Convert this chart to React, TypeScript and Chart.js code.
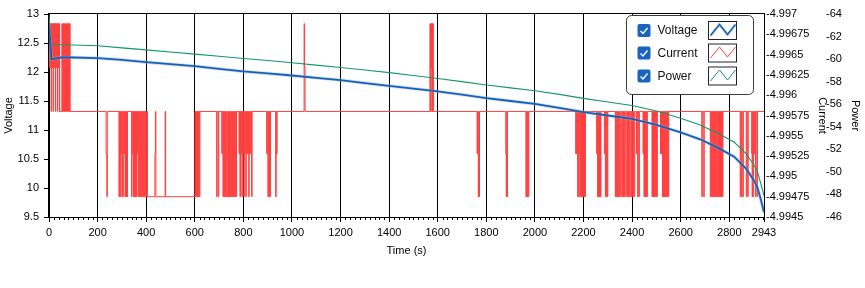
import React, { useEffect, useRef } from 'react';
import { Chart, registerables } from 'chart.js';

Chart.register(...registerables);

const FONT = '"Liberation Sans", Arial, sans-serif';

// ---- axes ----
const TIME_MAX = 2943;
const TIME_TICKS = [0, 200, 400, 600, 800, 1000, 1200, 1400, 1600, 1800, 2000, 2200, 2400, 2600, 2800, 2943];
const TIME_MINOR_STEP = 20;
const VOLTAGE_TICKS = [9.5, 10, 10.5, 11, 11.5, 12, 12.5, 13];
const CURRENT_TICKS = [-4.997, -4.99675, -4.9965, -4.99625, -4.996, -4.99575, -4.9955, -4.99525, -4.995, -4.99475, -4.9945];
const CURRENT_TICK_LABELS = ['-4.997', '-4.99675', '-4.9965', '-4.99625', '-4.996', '-4.99575', '-4.9955', '-4.99525', '-4.995', '-4.99475', '-4.9945'];
const POWER_TICKS = [-64, -62, -60, -58, -56, -54, -52, -50, -48, -46];

// ---- series ----
const SAMPLE_TIME = [0, 10, 25, 50, 100, 200, 300, 400, 500, 600, 700, 800, 900, 1000, 1100, 1200, 1300, 1400, 1500, 1600, 1700, 1800, 1900, 2000, 2100, 2200, 2300, 2400, 2500, 2600, 2680, 2750, 2820, 2870, 2900, 2915, 2930, 2943];
const VOLTAGE_VALUES = [12.82, 12.22, 12.23, 12.25, 12.25, 12.24, 12.21, 12.17, 12.135, 12.1, 12.055, 12.01, 11.975, 11.94, 11.9, 11.86, 11.81, 11.76, 11.715, 11.665, 11.61, 11.55, 11.5, 11.45, 11.38, 11.31, 11.25, 11.19, 11.09, 10.96, 10.84, 10.7, 10.54, 10.33, 10.14, 10.02, 9.8, 9.58];
const POWER_VALUES = [-63.9, -61.3, -61.3, -61.28, -61.25, -61.18, -61.0, -60.82, -60.63, -60.44, -60.25, -60.06, -59.88, -59.68, -59.47, -59.26, -59.03, -58.8, -58.55, -58.28, -58.0, -57.7, -57.45, -57.2, -56.87, -56.52, -56.2, -55.88, -55.4, -54.75, -54.15, -53.45, -52.65, -51.6, -50.65, -50.1, -48.95, -47.9];

// quantised current levels (A)
const CURRENT_LEVELS = [-4.99688, -4.99634, -4.9958, -4.99528, -4.99475];
// [time (s), level index] – value holds until the next entry
const CURRENT_STEPS: [number, number][] = [
  [0, 1], [2, 0], [4, 1], [5, 0], [7, 1], [8, 0], [9, 2], [10, 0], [12, 1], [13, 0], [15, 1], [16, 0], [17, 2], [18, 0],
  [20, 1], [21, 0], [23, 1], [24, 0], [26, 2], [27, 0], [29, 1], [30, 0], [32, 1], [33, 0], [34, 2], [35, 0], [37, 1],
  [38, 0], [40, 1], [41, 0], [42, 2], [43, 0], [44, 2], [53, 0], [55, 2], [56, 0], [58, 2], [59, 0], [61, 1], [62, 2],
  [63, 0], [65, 2], [66, 0], [68, 2], [69, 0], [71, 1], [72, 2], [73, 0], [75, 2], [76, 0], [78, 2], [79, 0], [81, 2],
  [82, 0], [84, 2], [85, 0], [87, 2],
  [235, 3], [238, 4], [240, 2],
  [288, 4], [290, 2], [292, 4], [294, 2], [296, 3], [298, 2], [300, 4], [302, 2], [304, 4], [306, 2], [309, 3], [311, 2],
  [313, 4], [315, 2], [317, 4], [319, 2], [321, 4], [323, 2],
  [340, 4], [342, 2], [345, 3], [346, 2], [348, 4], [350, 2], [352, 4], [354, 2], [356, 4], [358, 2], [360, 4], [362, 2],
  [364, 3], [366, 2], [368, 4], [370, 2], [372, 4], [374, 2], [376, 4], [378, 2], [380, 4], [382, 2], [384, 4], [386, 2],
  [388, 4], [390, 2], [392, 4], [394, 2], [396, 4], [398, 2], [400, 4], [403, 2], [405, 4],
  [436, 3], [438, 2], [440, 4], [478, 2], [480, 4],
  [601, 2], [603, 4], [605, 2], [607, 4], [609, 2], [611, 4], [613, 2], [615, 4], [617, 2], [619, 4], [621, 2],
  [690, 4], [692, 2], [697, 4], [699, 2], [711, 3], [713, 2], [716, 4], [718, 2],
  [721, 4], [723, 2], [725, 4], [727, 2], [729, 4], [732, 2], [734, 4], [737, 2], [739, 4], [741, 2], [743, 4], [746, 2],
  [748, 4], [750, 2], [752, 4], [755, 2], [757, 4], [759, 2], [761, 4], [764, 2], [766, 4], [768, 2], [770, 4], [772, 2],
  [782, 3], [784, 2], [786, 4], [788, 2], [790, 3], [792, 2], [794, 4], [796, 2], [798, 3], [800, 2], [802, 4], [804, 2],
  [806, 3], [808, 2], [810, 4], [812, 2], [814, 3], [816, 2], [818, 3], [820, 2], [822, 4], [824, 2], [826, 3], [828, 2],
  [830, 3], [832, 2], [834, 4], [836, 2],
  [896, 3], [898, 2], [901, 4], [903, 2], [906, 4], [908, 2], [910, 4], [912, 2], [933, 4], [935, 2], [937, 3], [939, 2],
  [1050, 0], [1052, 1], [1054, 2],
  [1568, 0], [1570, 2], [1571, 0], [1573, 1], [1574, 0], [1576, 2], [1577, 0], [1579, 2], [1580, 0], [1582, 1], [1583, 2],
  [1762, 3], [1764, 2], [1765, 3], [1767, 4], [1769, 2], [1770, 4], [1772, 2],
  [1880, 3], [1882, 4], [1884, 2], [1886, 4], [1887, 2],
  [1963, 4], [1965, 2], [1968, 4], [1970, 2], [1973, 4], [1975, 2],
  [2168, 3], [2170, 2], [2172, 3], [2174, 2], [2176, 4], [2178, 2], [2180, 4], [2182, 2], [2184, 3], [2186, 4], [2188, 2],
  [2190, 4], [2192, 2], [2194, 4], [2196, 2], [2198, 4], [2200, 2], [2202, 4], [2204, 2], [2206, 4], [2208, 2],
  [2254, 3], [2256, 2], [2258, 4], [2260, 2], [2262, 4], [2264, 2], [2266, 4], [2268, 2], [2270, 4], [2272, 2],
  [2286, 3], [2288, 2], [2290, 4], [2292, 2], [2294, 4], [2296, 2], [2298, 4], [2300, 2],
  [2331, 4], [2333, 2], [2335, 4], [2337, 2], [2339, 4], [2341, 2], [2343, 4], [2345, 2], [2347, 4], [2349, 2], [2351, 4], [2354, 2],
  [2358, 4], [2360, 2], [2362, 4], [2364, 2], [2366, 4], [2368, 2], [2370, 4], [2372, 2], [2378, 4], [2380, 2], [2382, 4],
  [2384, 2], [2386, 4], [2388, 2], [2390, 4], [2392, 2], [2396, 4], [2398, 2], [2400, 4], [2402, 2], [2404, 4], [2406, 2],
  [2408, 4], [2411, 2],
  [2418, 3], [2420, 2], [2423, 4], [2425, 2], [2428, 4], [2430, 2],
  [2445, 3], [2447, 2], [2449, 4], [2451, 2], [2453, 4], [2455, 2], [2457, 4], [2459, 2], [2461, 4], [2463, 2],
  [2482, 4], [2484, 2], [2486, 4], [2488, 2], [2490, 4], [2492, 2], [2494, 4], [2496, 2], [2498, 4], [2500, 2], [2502, 4], [2504, 2],
  [2517, 3], [2519, 2], [2521, 3], [2523, 2], [2525, 4], [2527, 2], [2529, 4], [2531, 2], [2533, 4], [2535, 2], [2537, 4],
  [2539, 2], [2541, 4], [2543, 2], [2545, 4], [2547, 2], [2549, 4], [2551, 2],
  [2687, 4], [2689, 2], [2695, 4], [2697, 2],
  [2722, 4], [2724, 2], [2726, 4], [2728, 2], [2730, 4], [2732, 2], [2734, 4], [2736, 2], [2738, 4], [2740, 2], [2742, 4],
  [2744, 2], [2746, 4], [2748, 2],
  [2752, 4], [2754, 2], [2756, 4], [2758, 2], [2760, 4], [2762, 2], [2764, 4], [2766, 2], [2768, 4], [2770, 2], [2772, 4], [2774, 2],
  [2845, 4], [2847, 2], [2850, 4], [2852, 2], [2856, 4], [2858, 2], [2870, 4], [2872, 2], [2876, 4], [2878, 2],
  [2892, 3], [2894, 4], [2896, 2], [2898, 4], [2900, 2], [2903, 3], [2905, 2], [2908, 4], [2910, 2], [2914, 4], [2916, 2],
  [2943, 2],
];

const VOLTAGE_COLOR = '#1a5fb4';
const VOLTAGE_HALO = 'rgba(130,178,228,0.4)';
const CURRENT_COLOR = '#ff3f3f';
const POWER_COLOR = '#12996b';

const LEGEND_ITEMS = [
  { label: 'Voltage', color: VOLTAGE_COLOR, width: 1.5, halo: true },
  { label: 'Current', color: CURRENT_COLOR, width: 1, halo: false },
  { label: 'Power', color: POWER_COLOR, width: 1, halo: false },
];

const framePlugin = {
  id: 'frameAndMinorTicks',
  afterDraw(chart: any) {
    const { ctx, chartArea: a } = chart;
    const xs = chart.scales.x;
    ctx.save();
    ctx.strokeStyle = '#000';
    ctx.lineWidth = 1;
    ctx.strokeRect(Math.round(a.left) - 0.5, Math.round(a.top) - 0.5, Math.round(a.right - a.left) + 1, Math.round(a.bottom - a.top) + 1);
    ctx.beginPath();
    for (let t = TIME_MINOR_STEP; t < TIME_MAX; t += TIME_MINOR_STEP) {
      if (t % 200 === 0) continue;
      const px = Math.round(xs.getPixelForValue(t)) + 0.5;
      ctx.moveTo(px, a.bottom);
      ctx.lineTo(px, a.bottom + 3);
    }
    ctx.stroke();
    ctx.restore();
  },
};

const legendPlugin = {
  id: 'boxLegend',
  afterDraw(chart: any) {
    const { ctx, chartArea: a } = chart;
    const bx = Math.round(a.right) - 138 + 0.5;
    const by = Math.round(a.top) + 1 + 0.5;
    const bw = 127;
    const bh = 79;
    ctx.save();
    ctx.beginPath();
    ctx.roundRect(bx, by, bw, bh, 5);
    ctx.fillStyle = '#fff';
    ctx.fill();
    ctx.strokeStyle = '#3a3a3a';
    ctx.lineWidth = 1;
    ctx.stroke();
    const rows = [15, 37.5, 60.5];
    LEGEND_ITEMS.forEach((item, i) => {
      const cy = by + rows[i];
      const cx = bx + 11;
      ctx.beginPath();
      ctx.roundRect(cx, cy - 6.5, 13, 13, 2);
      ctx.fillStyle = '#1b63c1';
      ctx.fill();
      ctx.beginPath();
      ctx.moveTo(cx + 3, cy + 0.5);
      ctx.lineTo(cx + 5.5, cy + 3);
      ctx.lineTo(cx + 10, cy - 2.5);
      ctx.strokeStyle = '#fff';
      ctx.lineWidth = 1.4;
      ctx.stroke();
      ctx.fillStyle = '#111';
      ctx.font = `12px ${FONT}`;
      ctx.textAlign = 'left';
      ctx.textBaseline = 'middle';
      ctx.fillText(item.label, bx + 31, cy + 0.5);
      const sx = bx + 82;
      const sy = cy - 9;
      ctx.strokeStyle = '#222';
      ctx.lineWidth = 1;
      ctx.strokeRect(sx, sy, 28, 18);
      const pts = [[2, 14], [11, 3], [19, 13], [27, 3]];
      const path = () => {
        ctx.beginPath();
        pts.forEach(([px, py], k) => {
          if (k === 0) ctx.moveTo(sx + px, sy + py);
          else ctx.lineTo(sx + px, sy + py);
        });
      };
      if (item.halo) {
        path();
        ctx.strokeStyle = VOLTAGE_HALO;
        ctx.lineWidth = 3;
        ctx.stroke();
      }
      path();
      ctx.strokeStyle = item.color;
      ctx.lineWidth = item.width;
      ctx.stroke();
    });
    ctx.restore();
  },
};

export default function App() {
  const ref = useRef<HTMLCanvasElement | null>(null);

  useEffect(() => {
    document.body.style.margin = '0';
    const canvas = ref.current;
    if (!canvas) return;

    const voltageData = SAMPLE_TIME.map((t, i) => ({ x: t, y: VOLTAGE_VALUES[i] }));
    const powerData = SAMPLE_TIME.map((t, i) => ({ x: t, y: POWER_VALUES[i] }));
    const currentData = CURRENT_STEPS.map(([t, lvl]) => ({ x: t, y: CURRENT_LEVELS[lvl] }));

    const tickFont = { family: FONT, size: 11 };
    const titleFont = { family: FONT, size: 11, lineHeight: 1.2 };

    const chart = new Chart(canvas, {
      type: 'line',
      data: {
        datasets: [
          {
            label: 'Voltage',
            data: voltageData,
            yAxisID: 'y',
            borderColor: VOLTAGE_COLOR,
            borderWidth: 1.8,
            pointRadius: 0,
            tension: 0,
            order: 0,
          },
          {
            label: 'Voltage halo',
            data: voltageData,
            yAxisID: 'y',
            borderColor: VOLTAGE_HALO,
            borderWidth: 3.5,
            pointRadius: 0,
            tension: 0,
            order: 1,
          },
          {
            label: 'Power',
            data: powerData,
            yAxisID: 'yPow',
            borderColor: POWER_COLOR,
            borderWidth: 1.1,
            pointRadius: 0,
            tension: 0,
            order: 2,
          },
          {
            label: 'Current',
            data: currentData,
            yAxisID: 'yCur',
            borderColor: CURRENT_COLOR,
            borderWidth: 1,
            pointRadius: 0,
            stepped: true,
            order: 3,
          },
        ],
      },
      options: {
        responsive: false,
        animation: false,
        events: [],
        layout: { padding: { top: 14, bottom: 26, left: 0, right: 0 } },
        plugins: {
          legend: { display: false },
          tooltip: { enabled: false },
          title: { display: false },
        },
        scales: {
          x: {
            type: 'linear',
            position: 'bottom',
            min: 0,
            max: TIME_MAX,
            afterBuildTicks: (s: any) => {
              s.ticks = TIME_TICKS.map((v) => ({ value: v }));
            },
            afterFit: (s: any) => {
              s.height = 45;
            },
            ticks: {
              autoSkip: false,
              maxRotation: 0,
              padding: 4,
              color: '#000',
              font: tickFont,
              callback: (v: any) => String(v),
            },
            grid: {
              color: '#000',
              lineWidth: 1,
              tickColor: '#000',
              tickLength: 5,
              drawTicks: true,
            },
            border: { display: false },
            title: {
              display: true,
              text: 'Time (s)',
              color: '#000',
              font: titleFont,
              padding: { top: 0, bottom: 4 },
            },
          },
          y: {
            type: 'linear',
            position: 'left',
            min: 9.5,
            max: 13,
            afterBuildTicks: (s: any) => {
              s.ticks = VOLTAGE_TICKS.map((v) => ({ value: v }));
            },
            afterFit: (s: any) => {
              s.width = 49;
            },
            ticks: {
              padding: 5,
              color: '#000',
              font: tickFont,
              callback: (v: any) => String(v),
            },
            grid: {
              drawOnChartArea: false,
              tickColor: '#000',
              tickLength: 5,
            },
            border: { display: false },
            title: {
              display: true,
              text: 'Voltage',
              color: '#000',
              font: titleFont,
              padding: { top: 2, bottom: 0 },
            },
          },
          yCur: {
            type: 'linear',
            position: 'right',
            weight: 1,
            min: -4.997,
            max: -4.9945,
            reverse: true,
            afterBuildTicks: (s: any) => {
              s.ticks = CURRENT_TICKS.map((v) => ({ value: v }));
            },
            afterFit: (s: any) => {
              s.width = 62;
            },
            ticks: {
              padding: 2,
              color: '#000',
              font: tickFont,
              callback: (_v: any, i: number) => CURRENT_TICK_LABELS[i],
            },
            grid: { display: false, drawOnChartArea: false, drawTicks: false },
            border: { display: false },
            title: {
              display: true,
              text: 'Current',
              color: '#000',
              font: titleFont,
              padding: { top: -3, bottom: 0 },
            },
          },
          yPow: {
            type: 'linear',
            position: 'right',
            weight: 2,
            min: -64,
            max: -46,
            reverse: true,
            afterBuildTicks: (s: any) => {
              s.ticks = POWER_TICKS.map((v) => ({ value: v }));
            },
            afterFit: (s: any) => {
              s.width = 39;
            },
            ticks: {
              padding: 0,
              color: '#000',
              font: tickFont,
              callback: (v: any) => String(v),
            },
            grid: { display: false, drawOnChartArea: false, drawTicks: false },
            border: { display: false },
            title: {
              display: true,
              text: 'Power',
              color: '#000',
              font: titleFont,
              padding: { top: 3, bottom: 0 },
            },
          },
        },
      } as any,
      plugins: [framePlugin, legendPlugin],
    });

    return () => {
      chart.destroy();
    };
  }, []);

  return (
    <div style={{ width: 865, height: 288, background: '#fff' }}>
      <canvas ref={ref} width={865} height={288} style={{ display: 'block' }} />
    </div>
  );
}
